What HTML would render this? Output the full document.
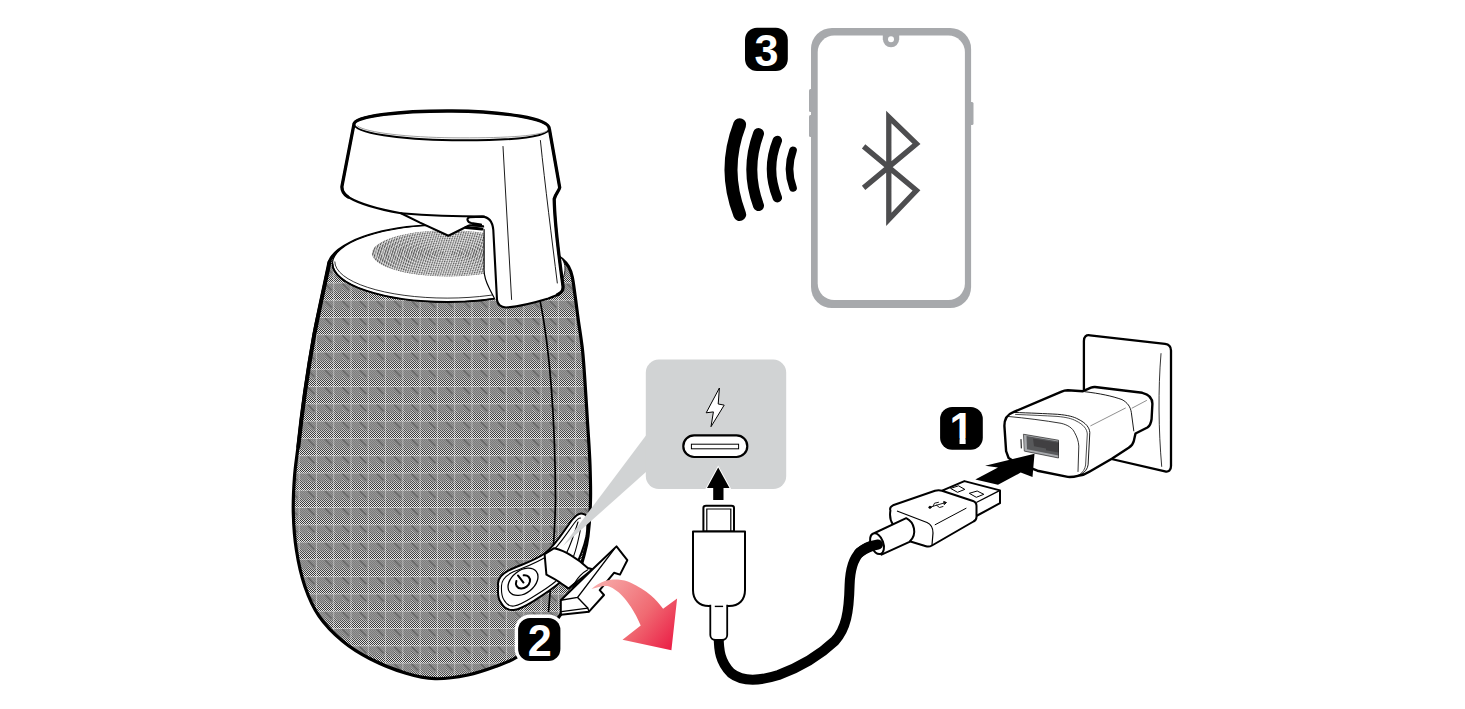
<!DOCTYPE html>
<html lang="en">
<head>
<meta charset="utf-8">
<title>Speaker charging and Bluetooth pairing</title>
<style>
html,body{margin:0;padding:0;background:#fff;}
body{width:1465px;height:709px;overflow:hidden;font-family:"Liberation Sans",sans-serif;}
svg{display:block;position:absolute;left:0;top:0;}
.badge{font-family:"Liberation Sans",sans-serif;font-weight:bold;fill:#fff;text-anchor:middle;}
</style>
</head>
<body>
<svg width="1465" height="709" viewBox="0 0 1465 709">
<defs>
  <pattern id="chk" width="2" height="2" patternUnits="userSpaceOnUse">
    <rect width="2" height="2" fill="#e3e3e3"/>
    <rect width="1" height="1" fill="#383838"/>
    <rect x="1" y="1" width="1" height="1" fill="#383838"/>
  </pattern>
  <pattern id="fabric" width="17.28" height="17.28" patternUnits="userSpaceOnUse" patternTransform="translate(4.93 5.92)">
    <polygon points="0,1 17.28,1 17.28,9.5 13,9.5 9,5.5 9,9.5 4.4,9.5 0,5.5" fill="#8a8a8a" opacity="0.85"/>
    <polygon points="0,5.5 4.4,9.5 9,9.5 9,5.5 13,9.5 17.28,9.5 17.28,12 0,12" fill="#8a8a8a" opacity="0.35"/>
    <line x1="9.1" y1="1.2" x2="15.8" y2="7.9" stroke="#3c3c3c" stroke-width="1.2" opacity="0.55"/>
    <line x1="0" y1="0.2" x2="17.28" y2="0.2" stroke="#fff" stroke-width="1" opacity="0.6"/>
    <line x1="0.3" y1="0" x2="0.3" y2="17.28" stroke="#fff" stroke-width="1" opacity="0.45"/>
  </pattern>
  <pattern id="hatch" width="2.28" height="8" patternUnits="userSpaceOnUse" patternTransform="rotate(18 448 253)">
    <rect x="0" y="0" width="1.15" height="8" fill="#585858"/>
  </pattern>
  <linearGradient id="redarrow" gradientUnits="userSpaceOnUse" x1="596" y1="584" x2="672" y2="646">
    <stop offset="0" stop-color="#f7a9a8"/>
    <stop offset="0.58" stop-color="#f06a72"/>
    <stop offset="1" stop-color="#eb2148"/>
  </linearGradient>
</defs>

<!-- ================= SPEAKER ================= -->
<g id="speaker">
  <!-- body -->
  <path id="bodyp" d="M328.5,267.0 C328.1,268.8 327.4,271.5 326.0,278.0 C324.6,284.5 322.0,296.6 320.0,306.0 C318.0,315.4 316.5,320.4 314.0,334.6 C311.5,348.8 307.7,372.3 305.0,391.0 C302.3,409.7 299.8,432.7 298.0,447.0 C296.2,461.3 295.3,465.7 294.5,476.7 C293.7,487.7 293.0,500.8 293.3,513.0 C293.6,525.2 294.4,537.7 296.4,550.0 C298.3,562.3 301.2,575.7 305.0,586.7 C308.8,597.7 312.8,607.0 319.0,616.0 C325.2,625.0 334.0,633.9 342.5,641.0 C351.0,648.1 359.4,653.3 370.0,658.7 C380.6,664.1 395.2,670.0 406.0,673.3 C416.8,676.6 424.7,678.4 435.0,678.7 C445.3,679.0 457.7,677.1 468.0,675.0 C478.3,672.9 488.8,669.0 497.0,666.0 C505.2,663.0 509.8,661.7 517.0,657.0 C524.2,652.3 532.5,645.4 540.0,638.0 C547.5,630.6 556.2,621.4 562.0,612.6 C567.8,603.8 571.4,594.3 575.0,585.0 C578.6,575.7 581.3,565.2 583.5,557.0 C585.7,548.8 586.8,545.5 588.0,536.0 C589.2,526.5 590.2,511.8 590.5,500.0 C590.8,488.2 590.4,476.7 590.0,465.0 C589.6,453.3 588.8,442.5 588.0,430.0 C587.2,417.5 586.4,403.3 585.5,390.0 C584.6,376.7 583.8,362.0 582.5,350.0 C581.2,338.0 579.2,327.2 578.0,318.0 C576.8,308.8 576.0,301.8 575.0,295.0 C574.0,288.2 573.4,281.8 572.3,277.0 C571.2,272.2 570.2,269.4 568.5,266.5 C566.8,263.6 564.4,261.4 562.0,259.3 C559.6,257.2 555.3,254.9 554.0,254.0 L540,239.5 A120.5,42 0 0 0 328.5,267 Z" fill="url(#chk)"/>
  <path d="M328.5,267.0 C328.1,268.8 327.4,271.5 326.0,278.0 C324.6,284.5 322.0,296.6 320.0,306.0 C318.0,315.4 316.5,320.4 314.0,334.6 C311.5,348.8 307.7,372.3 305.0,391.0 C302.3,409.7 299.8,432.7 298.0,447.0 C296.2,461.3 295.3,465.7 294.5,476.7 C293.7,487.7 293.0,500.8 293.3,513.0 C293.6,525.2 294.4,537.7 296.4,550.0 C298.3,562.3 301.2,575.7 305.0,586.7 C308.8,597.7 312.8,607.0 319.0,616.0 C325.2,625.0 334.0,633.9 342.5,641.0 C351.0,648.1 359.4,653.3 370.0,658.7 C380.6,664.1 395.2,670.0 406.0,673.3 C416.8,676.6 424.7,678.4 435.0,678.7 C445.3,679.0 457.7,677.1 468.0,675.0 C478.3,672.9 488.8,669.0 497.0,666.0 C505.2,663.0 509.8,661.7 517.0,657.0 C524.2,652.3 532.5,645.4 540.0,638.0 C547.5,630.6 556.2,621.4 562.0,612.6 C567.8,603.8 571.4,594.3 575.0,585.0 C578.6,575.7 581.3,565.2 583.5,557.0 C585.7,548.8 586.8,545.5 588.0,536.0 C589.2,526.5 590.2,511.8 590.5,500.0 C590.8,488.2 590.4,476.7 590.0,465.0 C589.6,453.3 588.8,442.5 588.0,430.0 C587.2,417.5 586.4,403.3 585.5,390.0 C584.6,376.7 583.8,362.0 582.5,350.0 C581.2,338.0 579.2,327.2 578.0,318.0 C576.8,308.8 576.0,301.8 575.0,295.0 C574.0,288.2 573.4,281.8 572.3,277.0 C571.2,272.2 570.2,269.4 568.5,266.5 C566.8,263.6 564.4,261.4 562.0,259.3 C559.6,257.2 555.3,254.9 554.0,254.0 L540,239.5 A120.5,42 0 0 0 328.5,267 Z" fill="url(#fabric)" stroke="#000" stroke-width="3.2" stroke-linejoin="round"/>
  <path d="M329.5,262 C327,274 321,301 314.3,334.6 C309,364 303,402 298.3,447" fill="none" stroke="#000" stroke-width="4" stroke-linecap="round"/>
  <!-- seam -->
  <path d="M540,300 C548,340 555,400 555.5,500 C555,530 552,570 548.5,612" fill="none" stroke="#000" stroke-width="1.7"/>
  <!-- top disc -->
  <ellipse cx="447" cy="263.5" rx="114.5" ry="38.5" fill="#fff" stroke="#000" stroke-width="1.2"/>
  <path d="M332.5,263.5 A114.5,38.5 0 0 0 561.5,263.5" fill="none" stroke="#000" stroke-width="1.8"/>
  <path d="M334.8,261.5 A112.3,36.6 0 0 0 559.4,261.5" fill="none" stroke="#000" stroke-width="0.8"/>
  <!-- grille -->
  <ellipse cx="448" cy="253.3" rx="76" ry="23.1" fill="#dcdcdc"/>
  <ellipse cx="448" cy="253.3" rx="76" ry="23.1" fill="url(#hatch)"/>
  <g fill="none" stroke="#fff" stroke-width="0.9" opacity="0.55">
    <ellipse cx="448" cy="253.3" rx="3.5" ry="1.1"/>
    <ellipse cx="448" cy="253.3" rx="10.4" ry="3.1"/>
    <ellipse cx="448" cy="253.3" rx="17.3" ry="5.2"/>
    <ellipse cx="448" cy="253.3" rx="24.2" ry="7.4"/>
    <ellipse cx="448" cy="253.3" rx="31.1" ry="9.5"/>
    <ellipse cx="448" cy="253.3" rx="38.0" ry="11.6"/>
    <ellipse cx="448" cy="253.3" rx="44.9" ry="13.7"/>
    <ellipse cx="448" cy="253.3" rx="51.8" ry="15.8"/>
    <ellipse cx="448" cy="253.3" rx="58.7" ry="17.9"/>
    <ellipse cx="448" cy="253.3" rx="65.6" ry="20.0"/>
    <ellipse cx="448" cy="253.3" rx="72.5" ry="22.1"/>
  </g>
  <path d="M559,256 C564,259.5 566,266 564.5,273 C564,276 563,278 562,279 Z" fill="#fff" stroke="#000" stroke-width="0.8"/>
  <!-- cap -->
  <g id="cap" stroke="#000" stroke-linejoin="round" stroke-linecap="round">
    <path d="M482,221 L495,226 L498,302 L494.5,298.5 L489.6,289 C486,282 483.5,276 484.1,268 L484.1,226 Z" fill="#fff" stroke="none"/>
    <!-- main silhouette -->
    <path d="M354,124 C354.5,116 400,110.7 452,111 C505,111.5 548.5,118.5 549.3,128.5 L559.7,187.5 C559,191 555.5,193.5 554.2,199 C554.5,215 558,250 563,286 C563.6,291.5 561,294 548.3,298.5 C530,304 515,307 506,307.5 C500,307 497.5,304 497,300 L493.3,230 C492.5,221 488,216.8 482,216.6 L470,217.2 C466,217.8 467,222 471.3,223 L481,224.5 C475,224.5 470,225 468.5,225.7 L448.4,235.8 L420,222.6 L401,213.2 C380,209.5 360,204 349,197.5 C343.5,194 341.5,190.5 342,186 Z" fill="#fff" stroke-width="2.1"/>
    <!-- heavier outer edges -->
    <path d="M348,197 C343.5,194 341.5,190.5 342,186 L354,124 C354.5,116 400,110.7 452,111 C505,111.5 548.5,118.5 549.3,128.5 L559.7,187.5 C559,191 555.5,193.5 554.2,199 C554.5,215 558,250 563,286 C563.5,290.5 562,292.5 557.5,294.8" fill="none" stroke-width="3.3"/>
    <!-- top face -->
    <path d="M354,124 C354.5,133 400,139.7 452,140.3 C505,140.8 549,138 549.3,128.5" fill="none" stroke-width="2"/>
    <path d="M357.5,126 C366,133 410,137.3 452,137.8 C500,138.2 538,136.5 547,131" fill="none" stroke-width="0.7" stroke="#777"/>
    <!-- rim underside line -->
    <path d="M401,213.2 C430,215.5 460,216.5 484,216.6" fill="none" stroke-width="2"/>
    <!-- shadow under hook -->
    <path d="M466,227.5 L482,229" fill="none" stroke-width="3"/>
    <!-- inner leg wall -->
    <path d="M484.1,229.5 L484.1,268 C483.5,276 486,282 489.6,289 L494.5,298.5" fill="none" stroke-width="1.2"/>
    <!-- vertical lines on leg -->
    <path d="M503,146.5 L511.6,299.5" fill="none" stroke-width="0.9"/>
    <path d="M540.4,140.5 C545,185 552,240 557.3,283" fill="none" stroke-width="0.9"/>
  </g>
  <!-- power / port panel -->
  <g id="panel" stroke="#000" stroke-linejoin="round" stroke-linecap="round">
    <path d="M582.6,513.7 C579,512.5 576,515 572,520 C563,532 556,545 545,553.2 C534,561 520,565 508.3,570.6 C500,575 497,580 498.2,586.2 C497.5,594 498,599 501,602.7 C504,608 508,610.5 513.8,610 C521,609 528,604.5 534,600.8 C543,595 551,590 557.8,584.3 L573,572 C579,560 584,548 586.5,536 C587.5,528 587.6,521 586.8,516.5 C586,514.5 584.5,514 582.6,513.7 Z" fill="#fff" stroke-width="2"/>
    <path d="M580.5,518 C578.5,518 576.5,520 574,523.5 C565,536 558,548 547,556.2 C536,563.5 522,568 511,573 C504,577 501.3,581 501.5,586.5 C501.2,593 502,597 504,600 C506.5,604.5 510,606.5 514,606 C520,605 526.5,601 532,597.5 C541,592 549,587 555.5,581.5" fill="none" stroke-width="1.1"/>
    <!-- inner slit lines toward the port -->
    <path d="M578,522 C574,535 570,546 566.5,553" fill="none" stroke-width="1.1"/>
    <path d="M581.5,524 C579,538 576,550 573,558" fill="none" stroke-width="1.1"/>
    <!-- power button -->
    <ellipse cx="523" cy="581.8" rx="16.8" ry="11.3" transform="rotate(-38 523 581.8)" fill="#fff" stroke-width="1.3"/>
    <g transform="rotate(-38 523.3 582.3)" fill="none" stroke-width="2">
      <path d="M518.7,577 A7.6,6 0 1 0 527.9,577"/>
      <path d="M523.3,573.6 L523.3,582.6"/>
    </g>
  </g>
</g>

<!-- ================= CALLOUT ================= -->
<g id="callout">
  <polygon points="646.5,434.8 646.5,471.5 563,546" fill="#d1d3d4"/>
  <rect x="645.8" y="359.6" width="140.4" height="129.4" rx="13" ry="13" fill="#d1d3d4"/>
  <!-- lightning bolt -->
  <polygon points="719.4,388 706.2,412.8 713.4,411.9 711,426.7 724.2,405.1 718.2,404" fill="#fff" stroke="#000" stroke-width="1" stroke-linejoin="miter"/>
  <!-- usb-c port -->
  <rect x="683.3" y="435.4" width="64" height="21.6" rx="10.8" ry="10.8" fill="#fff" stroke="#000" stroke-width="2.2"/>
  <rect x="691.4" y="444.2" width="47.2" height="4.6" fill="#fff" stroke="#000" stroke-width="1"/>
  <!-- arrow up -->
  <polygon points="718.2,467.5 729.5,488 723.5,488 723.5,500 713.2,500 713.2,488 707,488" fill="#000" stroke="#fff" stroke-width="2" stroke-linejoin="miter" paint-order="stroke"/>
</g>

<!-- ================= FLAP ================= -->
<g id="flapgroup">
  <!-- open flap -->
  <g id="flap" stroke="#000" stroke-linejoin="round" stroke-linecap="round" fill="#fff">
    <!-- strap -->
    <path d="M544.6,554.2 L554.2,548.2 C560,549.5 566,552 571,555.4 C578,559.5 583.5,564 587.8,568 L592.6,569.2 L568.6,588.5 C565,586 562,584 559,581.8 C554,578.5 550,576.5 546.4,574.6 Z" stroke-width="2"/>
    <path d="M587.8,569.8 C582,573 578,577.5 574.6,583 L568.6,588.5" fill="none" stroke-width="1.2"/>
    <!-- cover slab -->
    <path d="M616.5,546.4 L627.3,560.2 L620,574.6 L614,572.8 L599.7,590.2 L604,595 L589,611.7 L560.8,614.7 L560.8,600.3 L592.6,569.2 Z" stroke-width="2"/>
    <path d="M614,549.4 L577.6,597.4 L560.8,600.3" fill="none" stroke-width="1.4"/>
    <path d="M577.6,597.4 L587.8,608.1 L589,611.7" fill="none" stroke-width="1.4"/>
    <path d="M587.8,608.1 L561.4,611.7" fill="none" stroke-width="1.2"/>
    <path d="M616.5,560 L601,578" fill="none" stroke-width="0.001"/>
  </g>
  <!-- red arrow -->
  <path d="M591.4,589 C596,585 600.5,582.5 605.4,580.8 C609.5,579.6 614,579.3 618,579.5 C622.5,579.8 627,581 630.8,582.7 C638,586 645,590.5 651,595.4 C655.5,599.3 659.5,604 663.1,608.7 L677.1,598.6 L671.4,650.2 L622.5,639.8 L640.7,625.6 C638,619 634.5,612.5 630.8,606.8 C628,602.5 625,598.5 621.9,595.4 C618,591.5 613.5,588.3 609.2,586.5 C606,585.6 602.5,586 599,587.1 C596.5,587.8 594,588.5 591.4,589 Z" fill="url(#redarrow)"/>
</g>

<!-- ================= PHONE ================= -->
<g id="phone">
  <!-- side buttons -->
  <rect x="809" y="89" width="4" height="23" rx="1.5" fill="#a7a9ac"/>
  <rect x="809" y="115" width="4" height="22" rx="1.5" fill="#a7a9ac"/>
  <rect x="969.5" y="102" width="4" height="23" rx="1.5" fill="#a7a9ac"/>
  <!-- body -->
  <rect x="811" y="27.9" width="160.1" height="280.2" rx="21" ry="21" fill="#a7a9ac"/>
  <rect x="817.7" y="35.6" width="147.2" height="264.4" rx="16.5" ry="16.5" fill="#fff"/>
  <!-- notch -->
  <path d="M882.8,35 L899.2,35 L899.2,39.2 L882.8,39.2 Z" fill="#a7a9ac"/>
  <circle cx="891" cy="39.2" r="8.1" fill="#a7a9ac"/>
  <circle cx="891" cy="39.2" r="3" fill="#fff"/>
  <!-- bluetooth -->
  <path d="M863.6,146.4 L916.5,190.4 L888.8,219.3 L888.8,117 L916.5,143.8 L863.6,187.9" fill="none" stroke="#4d4d4f" stroke-width="5.3" stroke-linejoin="miter" stroke-miterlimit="10"/>
  <!-- waves -->
  <g fill="none" stroke="#000" stroke-linecap="round">
    <path d="M739.7,124.7 Q722.3,169.6 739.7,214.5" stroke-width="13"/>
    <path d="M758.5,133.6 Q745.1,169.6 758.5,205.6" stroke-width="11"/>
    <path d="M777.3,140.5 Q765.7,169.1 777.3,197.7" stroke-width="9.5"/>
    <path d="M793,150.4 Q786,169.1 793,187.9" stroke-width="7.7"/>
  </g>
</g>

<!-- ================= CHARGER ================= -->
<g id="charger" stroke="#000" stroke-linejoin="round" stroke-linecap="round">
  <!-- wall plate -->
  <path d="M1083.9,341 C1083.9,336.5 1086,334.8 1090,335.3 L1165,343.8 C1169,344.3 1171,346.5 1171,350.5 L1171,466 C1171,470.5 1168.5,472.2 1165,471.3 L1105,457.5 L1083.9,420 Z" fill="#fff" stroke-width="2.3"/>
  <path d="M1161,353.6 C1158,390 1158.5,430 1161.7,466.4" fill="none" stroke-width="0.8"/>
  <!-- charger silhouette -->
  <path d="M1008.6,458 L1006.1,451.2 L1004.4,425.8 C1004.4,418.5 1007.5,414.3 1012.8,412.3 L1061,391.8 C1063.5,390.7 1065.5,390.3 1067.8,390.3 L1083,391.2 L1091,387.6 C1092.5,387 1093.5,386.9 1095,387 L1142.3,392.8 C1149,394.3 1152.4,398.5 1152.4,403.8 L1151.6,419 C1151,423.5 1149.8,426 1147.4,427.5 L1135.5,433.5 L1133.8,441 C1133,444.5 1131.5,446 1128.7,447.8 L1111.8,458.8 L1089.8,471.5 C1086,474 1082,475.5 1078,475.8 C1074.5,476.8 1071,477.1 1067.8,476.9 L1037.4,470.7 L1015,462 Z" fill="#fff" stroke-width="2.4"/>
  <!-- front face edge (double thin) -->
  <path d="M1013.5,412.4 C1030,413 1045,413.6 1057.7,414.3 C1068,415.2 1074,416.8 1078,419.1 C1086,423 1089.5,427.5 1089.8,432.6 L1088.1,464.8 C1087.5,469 1085,472 1081.4,474.1" fill="none" stroke-width="0.9"/>
  <path d="M1015.5,414.4 C1030,415 1045,415.7 1057,416.4 C1066,417.2 1072,418.6 1076,420.9 C1083.5,424.5 1087,429 1087.3,434 L1085.6,465 C1085,469 1083,472.5 1079.5,474.6" fill="none" stroke-width="0.7"/>
  <!-- inner bezel -->
  <path d="M1008.6,416.5 C1025,418 1045,420.5 1061.1,423.3 C1068,425 1072.5,428 1074.6,432.6 C1077,437 1078.5,441 1078.8,446.1 L1078,471.5" fill="none" stroke-width="0.8"/>
  <!-- body / prong section edge -->
  <path d="M1084.8,391.7 C1100,393.5 1112,396 1122,399.6 C1127.5,402.5 1130.5,407 1131.3,412.3 L1133.8,430.9" fill="none" stroke-width="0.9"/>
  <!-- highlight lines -->
  <path d="M1090.7,425.8 L1125.4,408.1" fill="none" stroke-width="0.6" stroke="#444"/>
  <path d="M1132.1,408.1 L1146.5,400.5" fill="none" stroke-width="0.6" stroke="#444"/>
  <!-- usb port -->
  <polygon points="1023.8,434.3 1058.5,440.2 1058.5,458 1024.7,451.2" fill="#a9abae" stroke="none"/>
  <polygon points="1026.5,436 1058.5,441.5 1058.5,455.5 1027,449.3" fill="#58595b" stroke="none"/>
  <polygon points="1033,438.5 1058.5,442.8 1058.5,452.5 1046,450.3 1046,448.5 1034,446.3" fill="#414042" stroke="none"/>
  <polygon points="1023.8,434.3 1058.5,440.2 1058.5,458 1024.7,451.2" fill="none" stroke="#000" stroke-width="0.6"/>
  <line x1="1021" y1="439.5" x2="1021.3" y2="448" stroke="#000" stroke-width="1"/>
</g>

<!-- ================= CABLE ================= -->
<g id="cable">
  <!-- cord -->
  <path d="M718.7,636 C718.7,650 720,662 731,673 C741,681 755,682.5 778.5,675 C800,667 820,655 834.8,641 C846,629 849,612 849.6,585 C850,572 852,560 860,552 C866,547 872,545 878,543.5" fill="none" stroke="#000" stroke-width="10" stroke-linecap="round"/>
  <!-- usb-c tip -->
  <path d="M703.4,531.5 L703.4,508 C703.4,506.5 704.5,505.8 706,505.8 L731.5,505.8 C733,505.8 734,506.5 734,508 L734,531.5 Z" fill="#fff" stroke="#000" stroke-width="2"/>
  <path d="M706.8,531 L706.8,509 L730.8,509 L730.8,531" fill="none" stroke="#000" stroke-width="1.2"/>
  <!-- usb-c body -->
  <path d="M693,531.5 L745,531.5 L745,590 C745,600 739,606 729,606 L709,606 C699,606 693,600 693,590 Z" fill="#fff" stroke="#000" stroke-width="2" stroke-linejoin="round"/>
  <!-- strain relief -->
  <rect x="710.3" y="603" width="16.9" height="6" fill="#fff"/>
  <path d="M727.2,604.8 L727.2,635 C727.2,638 725,640 722,640 L715.5,640 C712.5,640 710.3,638 710.3,635 L710.3,604.8" fill="#fff" stroke="#000" stroke-width="1.8" stroke-linejoin="round"/>
  <line x1="714.8" y1="606.4" x2="723.1" y2="606.4" stroke="#000" stroke-width="1.4"/>

  <!-- usb-a metal tip -->
  <path d="M942.7,490.4 L964.4,481.1 L1000,490.4 L1000,503.2 L976.3,516 Z" fill="#fff" stroke="#000" stroke-width="2" stroke-linejoin="round"/>
  <path d="M1000,490.4 L976.3,502.5" fill="none" stroke="#000" stroke-width="1.4"/>
  <polygon points="950.6,488.4 958.5,485.8 964.8,489.4 957.5,492.3" fill="#fff" stroke="#000" stroke-width="1"/>
  <polygon points="969.3,493.3 977.2,491 983.8,494.3 976.3,497.3" fill="#fff" stroke="#000" stroke-width="1"/>
  <!-- usb-a plastic body -->
  <path d="M890.4,510.5 C889.5,508 890.5,506.5 893,505.3 L935,490.8 C937.5,490 939.5,490 942,490.7 L973,501 C976,502 976.5,503.5 976.5,506 L976.5,517 C976.5,519.5 975.5,520.5 973.5,521.5 L932,545.5 C930,546.6 928,546.8 926,546.2 L908,540.7 L893,524.5 C890.5,521 889.5,516 890.4,510.5 Z" fill="#fff" stroke="#000" stroke-width="2" stroke-linejoin="round"/>
  <path d="M897,511 L927,522.5 C931.5,524.5 933,528 933,533 L932,545" fill="none" stroke="#000" stroke-width="1.2"/>
  <line x1="934.8" y1="524.9" x2="966.4" y2="508.1" stroke="#000" stroke-width="1"/>
  <!-- usb-a: strain relief cylinder (in front of body) -->
  <path d="M874.6,533 L906.2,518.2 C914,522 918,534 909.5,541.8 L881.5,554.6 Z" fill="#fff" stroke="#000" stroke-width="2" stroke-linejoin="round"/>
  <ellipse cx="877" cy="543.7" rx="6.3" ry="10.8" transform="rotate(-20 877 543.7)" fill="#fff" stroke="#000" stroke-width="2"/>
  <path d="M859,553 C866,547.5 872,545.5 878,544.5" fill="none" stroke="#000" stroke-width="10" stroke-linecap="round"/>
  <!-- usb symbol -->
  <g fill="none" stroke="#000" stroke-width="0.9" stroke-linecap="round">
    <path d="M929,507.5 L944,503"/>
    <path d="M933,506.3 L934.5,503.2 L938.5,502.3"/>
    <path d="M936.5,505.2 L939.5,507.5 L943,506.5"/>
    <circle cx="930" cy="507.3" r="1.1" fill="#000"/>
    <path d="M944,501.6 L946.5,502.5 L944.5,504.4 Z" fill="#000"/>
  </g>
  <!-- black arrow into charger -->
  <polygon points="975.3,479.5 998,467.6 985.1,465.7 1034.5,453.8 1032.5,477.1 1020.7,472.6 998,484.8" fill="#000"/>
</g>

<!-- ================= BADGES ================= -->
<g id="badges">
  <rect x="745" y="27.8" width="42.8" height="43.1" rx="12" ry="12" fill="#000"/>
  <text class="badge" x="766.4" y="65.8" font-size="45" transform="translate(766.4 0) scale(0.96 1) translate(-766.4 0)">3</text>
  <rect x="940.1" y="406.9" width="42.7" height="42.9" rx="12" ry="12" fill="#000"/>
  <text class="badge" x="961.5" y="444" font-size="45" transform="translate(961.5 0) scale(0.96 1) translate(-961.5 0)">1</text>
  <rect x="948" y="438.4" width="11.53" height="7" fill="#000"/><rect x="965.64" y="438.4" width="9.5" height="7" fill="#000"/>
  <rect x="518.1" y="618" width="42.3" height="42.9" rx="12" ry="12" fill="#000" stroke="#fff" stroke-width="6.8" paint-order="stroke"/>
  <text class="badge" x="539.8" y="655.6" font-size="45" transform="translate(539.8 0) scale(0.96 1) translate(-539.8 0)">2</text>
</g>
</svg>
</body>
</html>
